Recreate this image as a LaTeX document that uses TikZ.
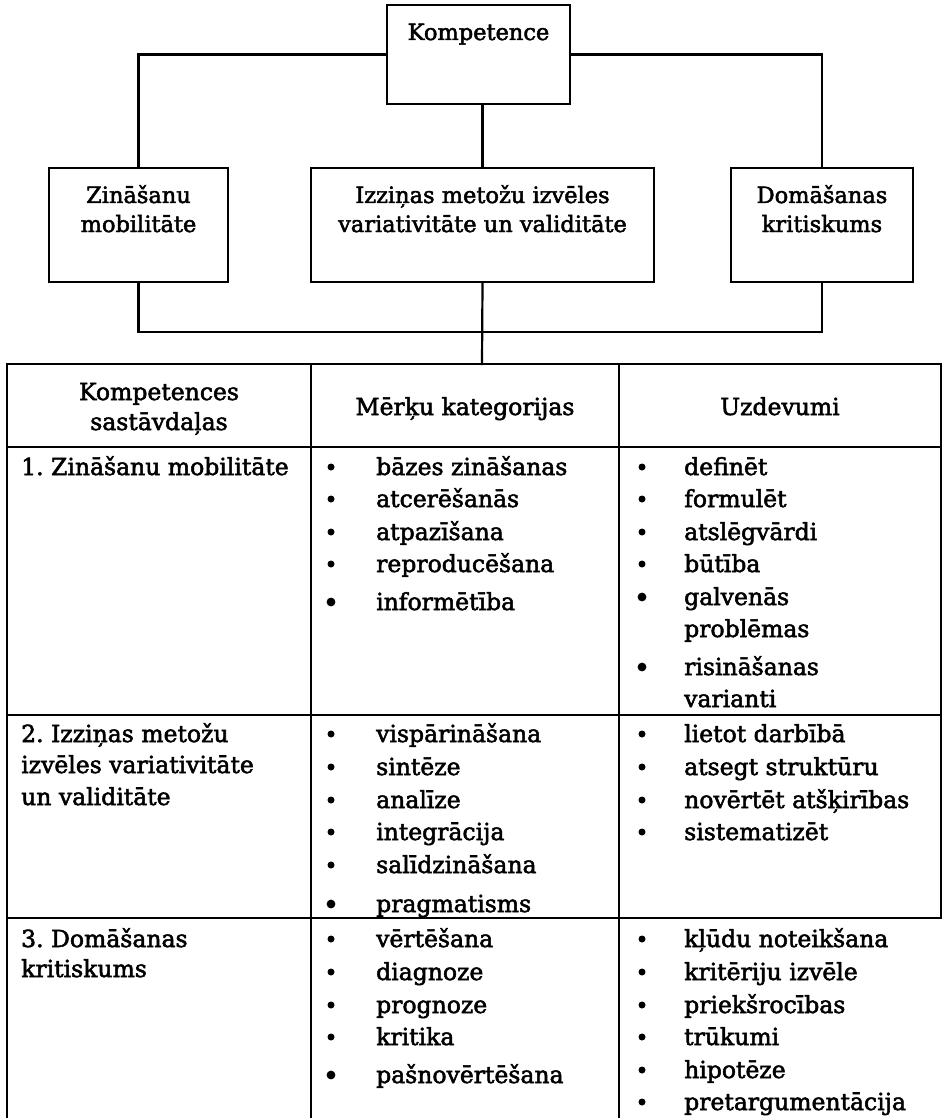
\documentclass[tikz,border=0pt]{standalone}
\usepackage{fontspec}
\setmainfont{DejaVu Serif}
\newfontfamily\heavyserif{DejaVu Serif}[FakeBold=2.2]
\frenchspacing
\begin{document}
\begin{tikzpicture}[x=1pt,y=-1pt,
  rule/.style={line width=2.2pt, line cap=rect},
  box/.style={draw, line width=2.2pt, rectangle, inner sep=0pt},
  toptext/.style={font=\heavyserif\fontsize{22.5}{27}\selectfont, anchor=base, inner sep=0pt},
  tx/.style={font=\heavyserif\fontsize{23.5}{28}\selectfont, anchor=base west, inner sep=0pt},
  hd/.style={font=\heavyserif\fontsize{23.5}{28}\selectfont, anchor=base, inner sep=0pt},
]
\useasboundingbox (0,0) rectangle (943,1118);

% upper hierarchy
\node[box, minimum width=183pt, minimum height=99pt] (komp) at (478.5,54.5) {};
\node[toptext] (kompT) at (478.5,40) {Kompetence};

\node[box, minimum width=179pt, minimum height=114pt] (zin) at (138.5,225) {};
\node[toptext] (zinA) at (138.5,203) {Zināšanu};
\node[toptext] (zinB) at (138.5,232) {mobilitāte};

\node[box, minimum width=343pt, minimum height=114pt] (izz) at (482.5,225) {};
\node[toptext] (izzA) at (482.5,203) {Izziņas metožu izvēles};
\node[toptext] (izzB) at (482.5,232) {variativitāte un validitāte};

\node[box, minimum width=182pt, minimum height=114pt] (dom) at (822,225) {};
\node[toptext] (domA) at (822,203) {Domāšanas};
\node[toptext] (domB) at (822,232) {kritiskums};

\draw[rule] (komp.west) -| (zin.north);
\draw[rule] (komp.east) -| (dom.north);
\draw[rule] (izz.north |- komp.south) -- (izz.north);

\coordinate (bus) at (482,332);
\coordinate (tabtop) at (482,364);
\draw[rule] (zin.south) |- (bus) -| (dom.south);
\draw[rule] (izz.south) -- (tabtop);

% table grid
\draw[rule] (7,1118) -- (7,364) -- (941,364) -- (941,918);
\draw[rule] (7,447) -- (941,447);
\draw[rule] (7,715) -- (941,715);
\draw[rule] (7,918) -- (941,918);
\draw[rule] (311,364) -- (311,1118);
\draw[rule] (619,364) -- (619,1118);

% header row
\node[hd] (h1a) at (159,400) {Kompetences};
\node[hd] (h1b) at (159,430) {sastāvdaļas};
\node[hd] (h2) at (465,415) {Mērķu kategorijas};
\node[hd] (h3) at (780,415) {Uzdevumi};

% first column
\node[tx] (r1) at (21,475) {1. Zināšanu mobilitāte};
\node[tx] (r2a) at (21,742) {2. Izziņas metožu};
\node[tx] (r2b) at (21,773) {izvēles variativitāte};
\node[tx] (r2c) at (21,805) {un validitāte};
\node[tx] (r3a) at (21,947) {3. Domāšanas};
\node[tx] (r3b) at (21,977) {kritiskums};

% goal categories
\foreach \yy/\txt/\r [count=\i] in {
  475/bāzes zināšanas/3.5, 507/atcerēšanās/3.5, 540/atpazīšana/3.5,
  572/reproducēšana/3.5, 610/informētība/4.4,
  742/vispārināšana/3.5, 775/sintēze/3.5, 808/analīze/3.5,
  840/integrācija/3.5, 873/salīdzināšana/3.5, 912/pragmatisms/4.4,
  947/vērtēšana/3.5, 980/diagnoze/3.5, 1013/prognoze/3.5,
  1045/kritika/3.5, 1083/pašnovērtēšana/4.4} {
  \node[tx] (goal\i) at (376,\yy) {\txt};
  \fill (331,\yy-8) circle (\r);
}

% tasks
\foreach \yy/\txt/\r [count=\i] in {
  475/definēt/3.5, 507/formulēt/3.5, 540/atslēgvārdi/3.5,
  572/būtība/3.5, 605/galvenās/4.4, 675/risināšanas/4.4,
  742/lietot darbībā/3.5, 775/atsegt struktūru/3.5,
  808/novērtēt atšķirības/3.5, 840/sistematizēt/3.5,
  947/kļūdu noteikšana/3.5, 980/kritēriju izvēle/3.5,
  1013/priekšrocības/3.5, 1045/trūkumi/3.5, 1078/hipotēze/3.5,
  1110/pretargumentācija/3.5} {
  \node[tx] (task\i) at (684,\yy) {\txt};
  \fill (642,\yy-8) circle (\r);
}
\node[tx] (taskP) at (684,637) {problēmas};
\node[tx] (taskV) at (684,707) {varianti};

\end{tikzpicture}
\end{document}
